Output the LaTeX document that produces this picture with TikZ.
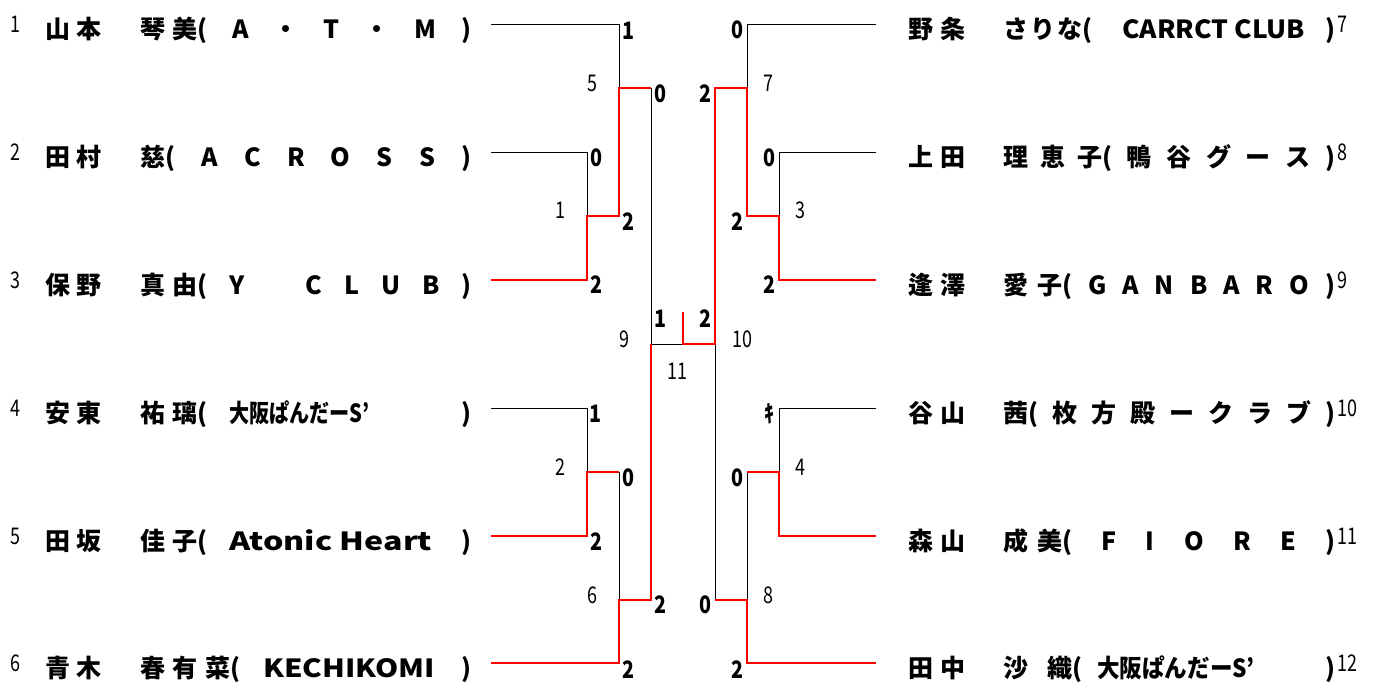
\documentclass[tikz,border=0pt]{standalone}
\usepackage{fontspec}
\usepackage{graphicx}
\newfontfamily\jp{Noto Sans CJK JP}
\newcommand\namefont{\jp\bfseries\fontsize{25}{28}\selectfont}
\newcommand\scorefont{\jp\bfseries\fontsize{24}{26}\selectfont}
\newcommand\mnofont{\jp\fontsize{23}{26}\selectfont}
\newcommand\nx[1]{\scalebox{0.78}[1]{#1}}
\newcommand\bx[1]{\scalebox{0.82}[1]{#1}}
\newcommand\sq[2]{\resizebox{#1}{\height}{#2}}
\begin{document}
\begin{tikzpicture}[x=1pt,y=-1pt,
  nm/.style={font=\namefont, anchor=base west, inner sep=0pt},
  sc/.style={font=\scorefont, anchor=base, inner sep=0pt},
  mno/.style={font=\mnofont, anchor=base, inner sep=0pt},
  seedl/.style={font=\mnofont, anchor=base, inner sep=0pt},
  seedr/.style={font=\mnofont, anchor=base west, inner sep=0pt},
  lose/.style={draw=black, line width=1pt},
  win/.style={draw=red, line width=2.8pt, line join=miter}]
\fill[white] (0,0) rectangle (1382,689);
\useasboundingbox (0,0) rectangle (1382,689);

% ---------- coordinates ----------
\coordinate (L1) at (491,24);  \coordinate (L2) at (491,152);
\coordinate (L3) at (491,280); \coordinate (L4) at (491,408);
\coordinate (L5) at (491,536); \coordinate (L6) at (491,663);
\coordinate (R1) at (876,24);  \coordinate (R2) at (876,152);
\coordinate (R3) at (876,280); \coordinate (R4) at (876,408);
\coordinate (R5) at (876,536); \coordinate (R6) at (876,663);
\coordinate (m1a) at (587,152); \coordinate (m1) at (587,216); \coordinate (m1b) at (587,280);
\coordinate (m5a) at (619,24);  \coordinate (m5) at (619,88);  \coordinate (m5b) at (619,216);
\coordinate (m2a) at (587,408); \coordinate (m2) at (587,472); \coordinate (m2b) at (587,536);
\coordinate (m6a) at (619,472); \coordinate (m6) at (619,600); \coordinate (m6b) at (619,663);
\coordinate (m9a) at (651,88);  \coordinate (m9) at (651,344); \coordinate (m9b) at (651,600);
\coordinate (m3a) at (779,152); \coordinate (m3) at (779,216); \coordinate (m3b) at (779,280);
\coordinate (m7a) at (747,24);  \coordinate (m7) at (747,88);  \coordinate (m7b) at (747,216);
\coordinate (m4a) at (779,408); \coordinate (m4) at (779,472); \coordinate (m4b) at (779,536);
\coordinate (m8a) at (747,472); \coordinate (m8) at (747,600); \coordinate (m8b) at (747,663);
\coordinate (m10a) at (715,88); \coordinate (m10) at (715,344); \coordinate (m10b) at (715,600);
\coordinate (fin) at (683,344); \coordinate (fintop) at (683,312);

% ---------- black lines ----------
\draw[lose] (L1) -- (m5a) -- (m5);
\draw[lose] (L2) -- (m1a) -- (m1);
\draw[lose] (m9a) -- (m9) -- (fin);
\draw[lose] (L4) -- (m2a) -- (m2);
\draw[lose] (m6a) -- (m6);
\draw[lose] (R1) -- (m7a) -- (m7);
\draw[lose] (R2) -- (m3a) -- (m3);
\draw[lose] (m10) -- (m10b);
\draw[lose] (R4) -- (m4a) -- (m4);
\draw[lose] (m8a) -- (m8);

% ---------- red lines ----------
\draw[win] (L3) -- (m1b) -- (m1) -- (m5b) -- (m5) -- (m9a);
\draw[win] (L5) -- (m2b) -- (m2) -- (m6a);
\draw[win] (L6) -- (m6b) -- (m6) -- (m9b) -- (m9);
\draw[win] (R3) -- (m3b) -- (m3) -- (m7b) -- (m7) -- (m10a) -- (m10) -- (fin) -- (fintop);
\draw[win] (R5) -- (m4b) -- (m4) -- (m8a);
\draw[win] (R6) -- (m8b) -- (m8) -- (m10b);

% ---------- scores ----------
\node[sc] (sc1) at (628,39) {\bx{1}};
\node[sc] (sc2) at (660,102) {\bx{0}};
\node[sc] (sc3) at (596,166) {\bx{0}};
\node[sc] (sc4) at (628,230) {\bx{2}};
\node[sc] (sc5) at (596,293) {\bx{2}};
\node[sc] (sc6) at (660,327) {\bx{1}};
\node[sc] (sc7) at (705,327) {\bx{2}};
\node[sc] (sc8) at (705,102) {\bx{2}};
\node[sc] (sc9) at (737,38) {\bx{0}};
\node[sc] (sc10) at (769,166) {\bx{0}};
\node[sc] (sc11) at (737,230) {\bx{2}};
\node[sc] (sc12) at (769,293) {\bx{2}};
\node[sc] (sc13) at (595,422) {\bx{1}};
\node[sc] (sc14) at (769,422) {\bx{ｷ}};
\node[sc] (sc15) at (628,486) {\bx{0}};
\node[sc] (sc16) at (737,486) {\bx{0}};
\node[sc] (sc17) at (596,550) {\bx{2}};
\node[sc] (sc18) at (660,613) {\bx{2}};
\node[sc] (sc19) at (705,613) {\bx{0}};
\node[sc] (sc20) at (628,678) {\bx{2}};
\node[sc] (sc21) at (737,678) {\bx{2}};

% ---------- match numbers ----------
\node[mno] (mn5) at (592,91) {\nx{5}};
\node[mno] (mn1) at (560,218) {\nx{1}};
\node[mno] (mn9) at (624,347) {\nx{9}};
\node[mno] (mn10) at (742,347) {\nx{10}};
\node[mno] (mn7) at (768,91) {\nx{7}};
\node[mno] (mn3) at (800,218) {\nx{3}};
\node[mno] (mn11) at (677,379) {\nx{11}};
\node[mno] (mn2) at (560,475) {\nx{2}};
\node[mno] (mn4) at (800,475) {\nx{4}};
\node[mno] (mn6) at (592,603) {\nx{6}};
\node[mno] (mn8) at (768,603) {\nx{8}};

% ---------- left players ----------
\node[seedl] (e1) at (15,32) {\nx{1}};
\node[seedl] (e2) at (15,160) {\nx{2}};
\node[seedl] (e3) at (15,288) {\nx{3}};
\node[seedl] (e4) at (15,416) {\nx{4}};
\node[seedl] (e5) at (15,544) {\nx{5}};
\node[seedl] (e6) at (15,671) {\nx{6}};

\node[nm] (f1) at (45,38)  {\makebox[56pt]{山\hfill 本}};
\node[nm] (f2) at (45,166) {\makebox[56pt]{田\hfill 村}};
\node[nm] (f3) at (45,294) {\makebox[56pt]{保\hfill 野}};
\node[nm] (f4) at (45,422) {\makebox[56pt]{安\hfill 東}};
\node[nm] (f5) at (45,550) {\makebox[56pt]{田\hfill 坂}};
\node[nm] (f6) at (45,677) {\makebox[56pt]{青\hfill 木}};

\node[nm] (g1) at (140,38)  {\makebox[331pt]{\makebox[57pt]{琴\hfill 美}(\hfill A\hfill ・\hfill T\hfill ・\hfill M\hfill )}};
\node[nm] (g2) at (140,166) {\makebox[331pt]{\makebox[25pt]{慈}(\hfill A\hfill C\hfill R\hfill O\hfill S\hfill S\hfill )}};
\node[nm] (g3) at (140,294) {\makebox[331pt]{\makebox[57pt]{真\hfill 由}(\hfill Y\hfill\hspace{18pt}\hfill C\hfill L\hfill U\hfill B\hfill )}};
\node[nm] (g4) at (140,422) {\makebox[331pt]{\makebox[57pt]{祐\hfill 璃}(\hspace{22pt}\sq{140pt}{大阪ぱんだーS’}\hfill )}};
\node[nm] (g5) at (140,550) {\makebox[331pt]{\makebox[57pt]{佳\hfill 子}(\hspace{22pt}\sq{203pt}{Atonic Heart}\hfill )}};
\node[nm] (g6) at (140,677) {\makebox[331pt]{\makebox[90pt]{春\hfill 有\hfill 菜}(\hspace{23pt}\sq{172pt}{KECHIKOMI}\hfill )}};

% ---------- right players ----------
\node[nm] (f7)  at (908,38)  {\makebox[57pt]{野\hfill 条}};
\node[nm] (f8)  at (908,166) {\makebox[57pt]{上\hfill 田}};
\node[nm] (f9)  at (908,294) {\makebox[57pt]{逢\hfill 澤}};
\node[nm] (f10) at (908,422) {\makebox[57pt]{谷\hfill 山}};
\node[nm] (f11) at (908,550) {\makebox[57pt]{森\hfill 山}};
\node[nm] (f12) at (908,677) {\makebox[57pt]{田\hfill 中}};

\node[nm] (g7)  at (1003,38)  {\makebox[332pt]{\makebox[79pt]{さ\hfill り\hfill な}(\hspace{30pt}\sq{183pt}{CARRCT CLUB}\hfill )}};
\node[nm] (g8)  at (1003,166) {\makebox[332pt]{\makebox[99pt]{理\hfill 恵\hfill 子}(\hfill 鴨\hfill 谷\hfill グ\hfill ー\hfill ス\hfill )}};
\node[nm] (g9)  at (1003,294) {\makebox[332pt]{\makebox[59pt]{愛\hfill 子}(\hfill G\hfill A\hfill N\hfill B\hfill A\hfill R\hfill O\hfill )}};
\node[nm] (g10) at (1003,422) {\makebox[332pt]{\makebox[25pt]{茜}(\hfill 枚\hfill 方\hfill 殿\hfill ー\hfill ク\hfill ラ\hfill ブ\hfill )}};
\node[nm] (g11) at (1003,550) {\makebox[332pt]{\makebox[59pt]{成\hfill 美}(\hfill F\hfill I\hfill O\hfill R\hfill E\hfill )}};
\node[nm] (g12) at (1003,677) {\makebox[332pt]{\makebox[69pt]{沙\hfill 織}(\hspace{15pt}\sq{157pt}{大阪ぱんだーS’}\hfill )}};

\node[seedr] (e7)  at (1337,32)  {\nx{7}};
\node[seedr] (e8)  at (1337,160) {\nx{8}};
\node[seedr] (e9)  at (1337,288) {\nx{9}};
\node[seedr] (e10) at (1337,416) {\nx{10}};
\node[seedr] (e11) at (1337,544) {\nx{11}};
\node[seedr] (e12) at (1337,671) {\nx{12}};
\end{tikzpicture}
\end{document}
